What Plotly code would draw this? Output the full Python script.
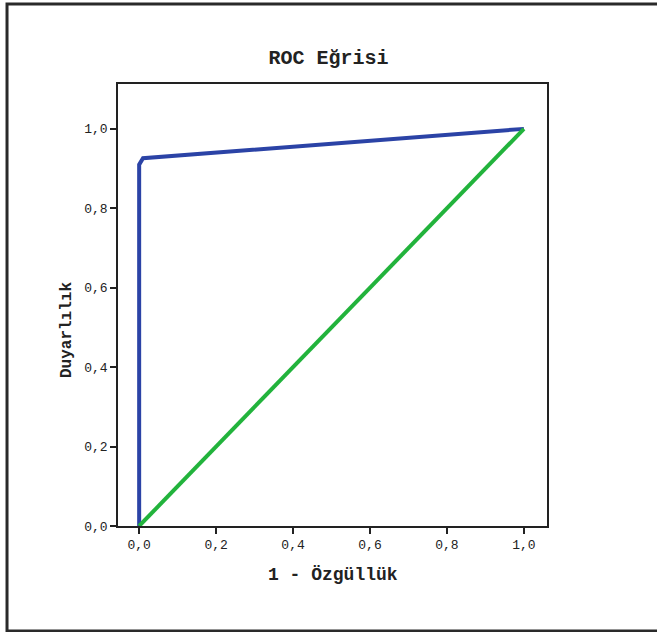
import plotly.graph_objects as go

# ROC curve data
roc_fpr = [0.0, 0.0, 0.01, 1.0]
roc_tpr = [0.0, 0.91, 0.926, 1.0]
ref_x = [0.0, 1.0]
ref_y = [0.0, 1.0]
tick_vals = [0.0, 0.2, 0.4, 0.6, 0.8, 1.0]
tick_text = ["0,0", "0,2", "0,4", "0,6", "0,8", "1,0"]

title_text = "ROC Eğrisi"
x_title = "1 - Özgüllük"
y_title = "Duyarlılık"

FONT = "Liberation Mono, Courier New, monospace"

fig = go.Figure()
fig.add_trace(go.Scatter(x=roc_fpr, y=roc_tpr, mode="lines",
                         line=dict(color="#2b43a6", width=4)))
fig.add_trace(go.Scatter(x=ref_x, y=ref_y, mode="lines",
                         line=dict(color="#22b33c", width=4), hoverinfo="skip"))

axis_common = dict(
    showgrid=False, zeroline=False, showline=True, linecolor="#222222",
    linewidth=1.5, mirror=True, ticks="outside", ticklen=6, tickwidth=1.5,
    tickcolor="#222222", tickvals=tick_vals, ticktext=tick_text,
    tickfont=dict(family=FONT, size=13, color="#222222"),
)

fig.update_layout(
    width=657, height=632,
    margin=dict(l=118, r=110, t=84, b=106),
    paper_bgcolor="white", plot_bgcolor="white",
    showlegend=False,
    title=dict(text="<b>" + title_text + "</b>", x=0.5, xanchor="center",
               y=1 - 57 / 632, yanchor="middle",
               font=dict(family=FONT, size=20, color="#222222")),
    xaxis=dict(range=[-0.055, 1.06], **axis_common),
    yaxis=dict(range=[0, 1.113], **axis_common),
)

fig.add_annotation(text="<b>" + x_title + "</b>", xref="paper", yref="paper",
                   x=0.5, y=(526 - 575) / 442, xanchor="center", yanchor="middle",
                   showarrow=False, font=dict(family=FONT, size=18, color="#222222"))
fig.add_annotation(text="<b>" + y_title + "</b>", xref="paper", yref="paper",
                   x=(67 - 118) / 429, y=(526 - 330) / 442, xanchor="center",
                   yanchor="middle", textangle=-90,
                   showarrow=False, font=dict(family=FONT, size=16, color="#222222"))

# outer frame
fig.add_shape(type="rect", xref="paper", yref="paper",
              x0=-0.2587, x1=1.27, y0=-0.2376, y1=1.181,
              line=dict(color="#2a2a2a", width=3), layer="above")

fig.write_html("out.html", config={"displayModeBar": False},
               post_script="document.body.style.margin='0px';")
